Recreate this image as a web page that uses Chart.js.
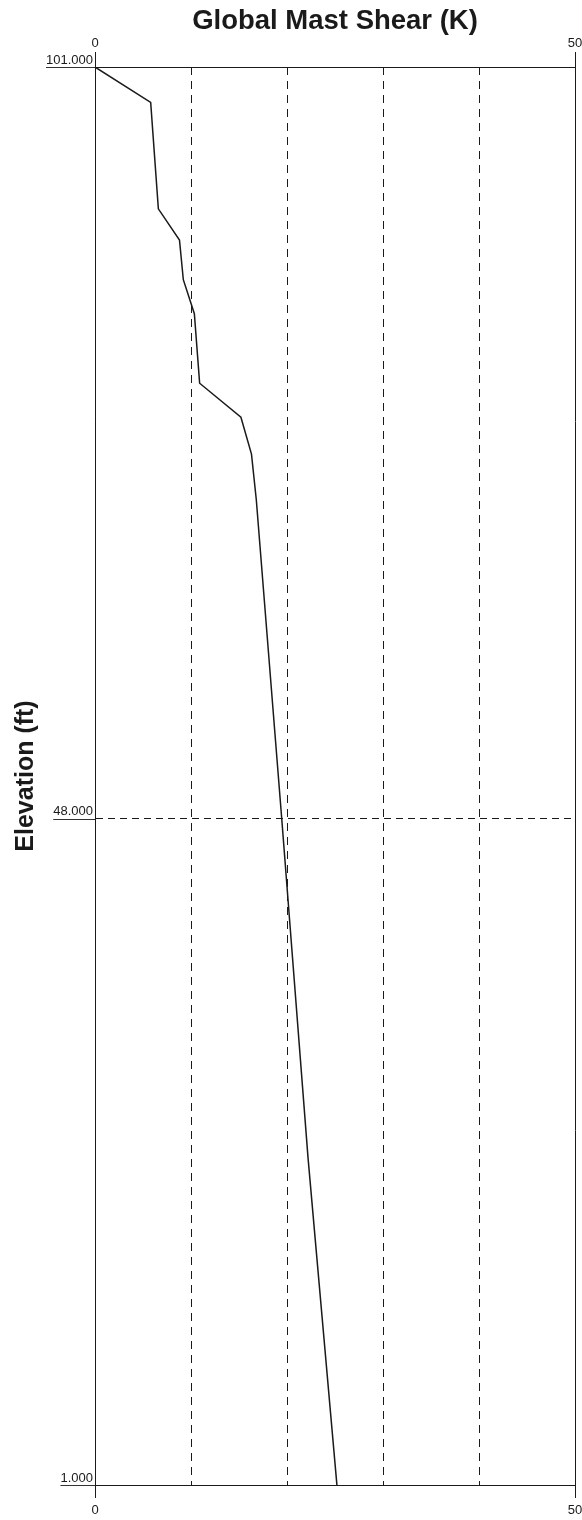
<!DOCTYPE html>
<html>
<head>
<meta charset="utf-8">
<script src="https://cdn.jsdelivr.net/npm/chart.js@4.4.1/dist/chart.umd.min.js"></script>
<style>
  html, body { margin: 0; padding: 0; background: #fff; }
  #wrap { width: 582px; height: 1520px; position: relative; }
</style>
</head>
<body>
<div id="wrap"><canvas id="shearChart"></canvas></div>
<script>
// data: shear (K) against elevation (ft)
const elevation = [101, 98.5, 91, 88.8, 86, 83.6, 78.7, 76.3, 73.7, 70.5, 48, 24, 1];
const shear = [0, 5.8, 6.6, 8.8, 9.2, 10.35, 10.9, 15.2, 16.3, 16.8, 19.45, 22.2, 25.2];

// axis ticks
const yTickValues = [1, 48, 101];
const xLabeled = [0, 50];

const FONT = "'Liberation Sans', Arial, sans-serif";
const INK = "#1a1a1a";

const points = shear.map((s, i) => ({ x: s, y: elevation[i] }));

// underline under each y label, running into the plot edge
const labelUnderline = {
  id: "labelUnderline",
  afterDraw(chart) {
    const y = chart.scales.y;
    const ctx = chart.ctx;
    ctx.save();
    ctx.font = "13px " + FONT;
    ctx.strokeStyle = "#333";
    ctx.lineWidth = 1;
    y.ticks.forEach(t => {
      const py = Math.round(y.getPixelForValue(t.value)) + 0.5;
      const w = ctx.measureText(t.value.toFixed(3)).width;
      ctx.beginPath();
      ctx.moveTo(y.right - 2 - w, py);
      ctx.lineTo(y.right, py);
      ctx.stroke();
    });
    ctx.restore();
  }
};

const whiteBg = {
  id: "whiteBg",
  beforeDraw(chart) {
    const ctx = chart.ctx;
    ctx.save();
    ctx.fillStyle = "#fff";
    ctx.fillRect(0, 0, chart.width, chart.height);
    ctx.restore();
  }
};

const endTick = (c) => (c.tick && xLabeled.includes(c.tick.value)) ? INK : "rgba(0,0,0,0)";

new Chart(document.getElementById("shearChart"), {
  type: "scatter",
  data: {
    datasets: [{
      data: points,
      showLine: true,
      borderColor: INK,
      borderWidth: 1.5,
      pointRadius: 0,
      tension: 0,
      xAxisID: "x",
      yAxisID: "y"
    }]
  },
  options: {
    responsive: true,
    maintainAspectRatio: false,
    animation: false,
    layout: { padding: 0 },
    plugins: { legend: { display: false }, tooltip: { enabled: false } },
    scales: {
      x: {
        type: "linear",
        position: "bottom",
        min: 0,
        max: 50,
        afterFit: (s) => { s.height = 35; s.paddingRight = 7; },
        ticks: {
          stepSize: 10,
          autoSkip: false,
          maxRotation: 0,
          padding: 5,
          color: INK,
          font: { family: FONT, size: 13 },
          callback: (v) => xLabeled.includes(v) ? String(v) : ""
        },
        grid: {
          color: INK,
          lineWidth: 1,
          tickLength: 13,
          tickColor: endTick
        },
        border: {
          display: true,
          color: INK,
          width: 1,
          dash: (c) => (c.tick && !xLabeled.includes(c.tick.value)) ? [8, 6] : []
        }
      },
      x2: {
        type: "linear",
        position: "top",
        min: 0,
        max: 50,
        afterFit: (s) => { s.height = 67; s.paddingRight = 7; },
        ticks: {
          stepSize: 10,
          autoSkip: false,
          maxRotation: 0,
          padding: 1,
          color: INK,
          font: { family: FONT, size: 13 },
          callback: (v) => xLabeled.includes(v) ? String(v) : ""
        },
        grid: {
          drawOnChartArea: false,
          tickLength: 15,
          tickColor: endTick
        },
        border: { display: true, color: INK, width: 1 },
        title: {
          display: true,
          text: "Global Mast Shear (K)",
          color: INK,
          font: { family: FONT, size: 27.5, weight: "bold", lineHeight: 1 },
          padding: { top: 8, bottom: 0 }
        }
      },
      y: {
        type: "linear",
        position: "left",
        min: 1,
        max: 101,
        afterFit: (s) => { s.width = 95; },
        afterBuildTicks: (s) => { s.ticks = yTickValues.map(v => ({ value: v })); },
        ticks: {
          padding: 2,
          labelOffset: -7,
          color: INK,
          font: { family: FONT, size: 13 },
          callback: (v) => Number(v).toFixed(3)
        },
        grid: {
          color: INK,
          lineWidth: 1,
          drawTicks: false
        },
        border: {
          display: true,
          color: INK,
          width: 1,
          dash: (c) => (c.tick && c.tick.value === 48) ? [7, 5] : []
        },
        title: {
          display: true,
          text: "Elevation (ft)",
          color: INK,
          font: { family: FONT, size: 25, weight: "bold", lineHeight: 1 },
          padding: { top: 14, bottom: 0 }
        }
      }
    }
  },
  plugins: [whiteBg, labelUnderline]
});
</script>
</body>
</html>
